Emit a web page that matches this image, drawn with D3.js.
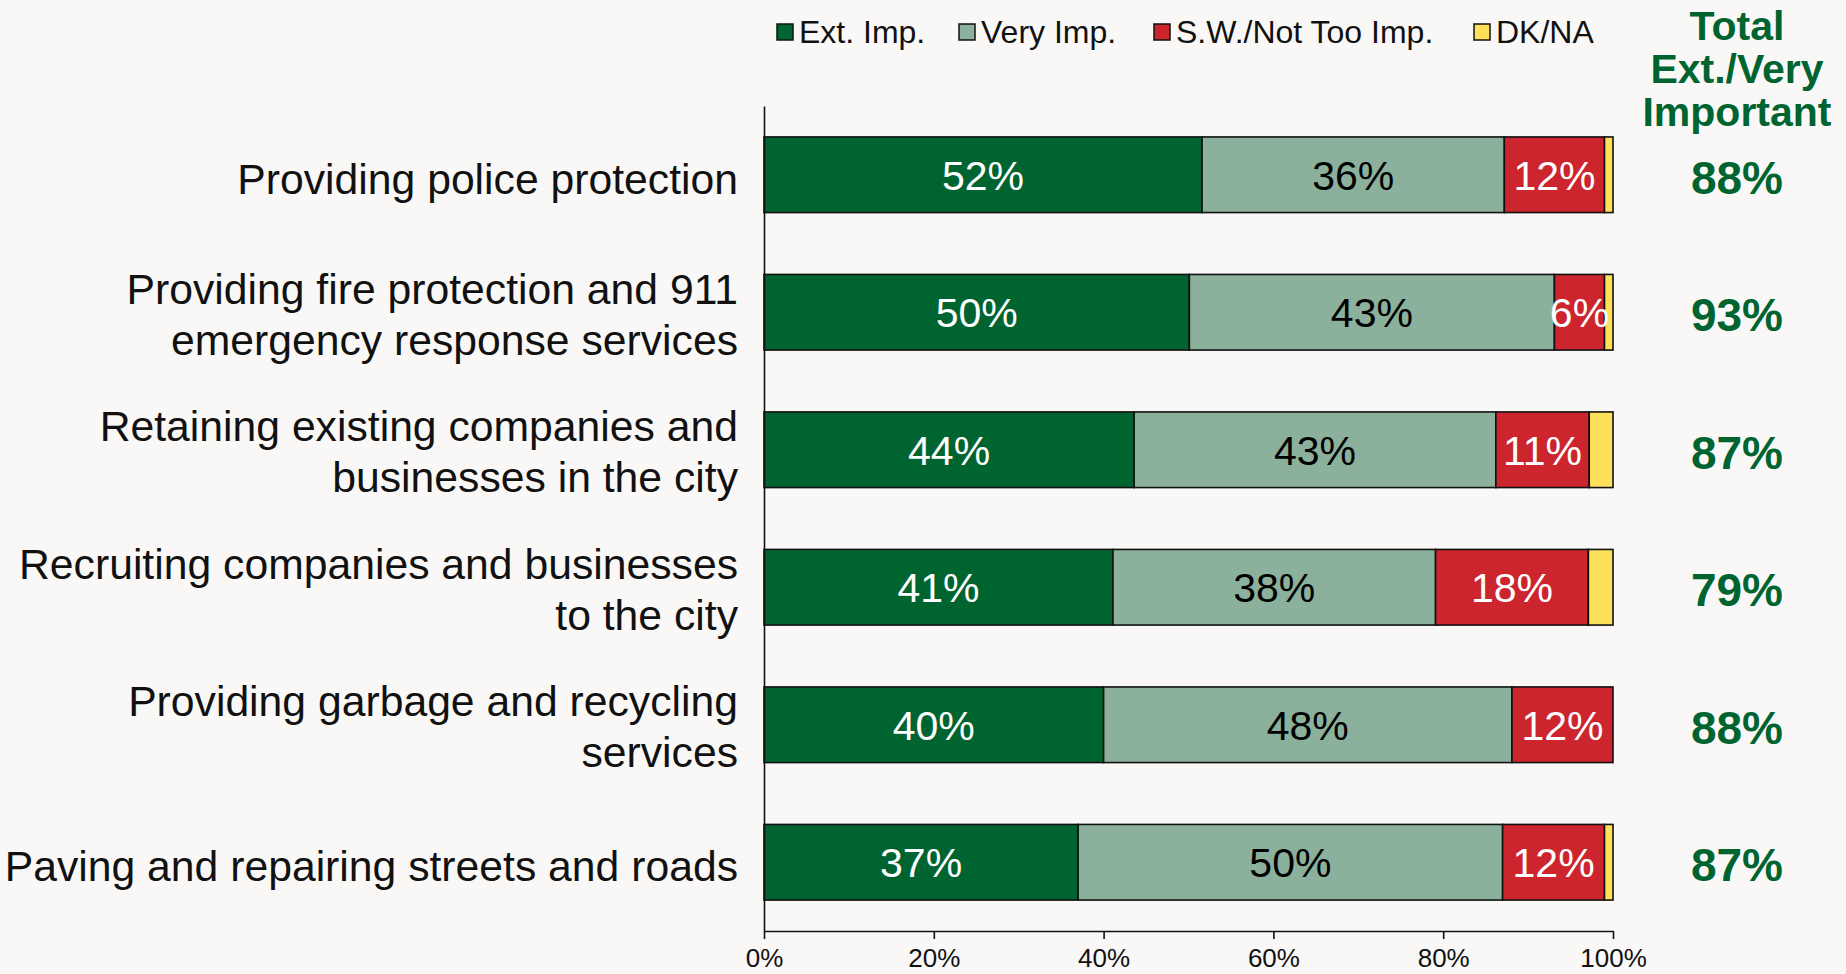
<!DOCTYPE html>
<html>
<head>
<meta charset="utf-8">
<script src="https://cdn.jsdelivr.net/npm/d3@7"></script>
<style>
  html, body { margin: 0; padding: 0; background: #F9F8F6; }
  svg { display: block; font-family: "Liberation Sans", Arial, sans-serif; }
</style>
</head>
<body>
<svg id="chart" width="1846" height="974"></svg>
<script>
// ---- data ----
const categories = [
  ["Providing police protection"],
  ["Providing fire protection and 911", "emergency response services"],
  ["Retaining existing companies and", "businesses in the city"],
  ["Recruiting companies and businesses", "to the city"],
  ["Providing garbage and recycling", "services"],
  ["Paving and repairing streets and roads"]
];
const seriesNames = ["Ext. Imp.", "Very Imp.", "S.W./Not Too Imp.", "DK/NA"];
const extImp   = [51.6, 50.1, 43.6, 41.1, 40.0, 37.0];
const veryImp  = [35.6, 43.0, 42.6, 38.0, 48.1, 50.0];
const swNotToo = [11.8,  5.9, 11.0, 18.0, 11.9, 12.0];
const dkNa     = [ 1.0,  1.0,  2.8,  2.9,  0.0,  1.0];
const totals   = ["88%", "93%", "87%", "79%", "88%", "87%"];
const tickValues = [0, 20, 40, 60, 80, 100];
const totalHeader = ["Total", "Ext./Very", "Important"];

const colors = ["#006431", "#8BB09C", "#CC252E", "#FEE05A"];
const labelColors = ["#ffffff", "#000000", "#ffffff", "#000000"];

// ---- layout ----
const svg = d3.select("#chart");
const x0 = 764, x1 = 1613, yTop = 106, yBot = 931;

const x = d3.scaleLinear().domain([0, 100]).range([x0, x1]);
const y = d3.scaleBand().domain(d3.range(categories.length)).range([yTop, yBot]).paddingInner(0.45).paddingOuter(0.225);

const seriesData = [extImp, veryImp, swNotToo, dkNa];
const segs = [];
categories.forEach((c, i) => {
  let acc = 0;
  seriesData.forEach((s, k) => {
    segs.push({ row: i, k, v: s[i], start: acc, end: acc + s[i] });
    acc += s[i];
  });
});

// bars
const g = svg.append("g");
g.selectAll("rect").data(segs.filter(d => d.v > 0)).join("rect")
  .attr("x", d => x(d.start))
  .attr("y", d => y(d.row))
  .attr("width", d => x(d.end) - x(d.start))
  .attr("height", y.bandwidth())
  .attr("fill", d => colors[d.k])
  .attr("stroke", "#111")
  .attr("stroke-width", 1.6);

g.selectAll("text").data(segs.filter(d => d.k < 3 && d.v >= 4)).join("text")
  .attr("x", d => (x(d.start) + x(d.end)) / 2)
  .attr("y", d => y(d.row) + y.bandwidth() / 2)
  .attr("dy", "0.36em")
  .attr("text-anchor", "middle")
  .attr("font-size", 41)
  .attr("fill", d => labelColors[d.k])
  .text(d => Math.round(d.v) + "%");

// x axis
const xAxis = d3.axisBottom(x).tickValues(tickValues).tickFormat(d => d + "%").tickSize(8).tickSizeOuter(0);
const ax = svg.append("g").attr("transform", `translate(0,${yBot})`).call(xAxis);
ax.select(".domain").attr("stroke", "#111").attr("stroke-width", 1.6);
ax.selectAll(".tick line").attr("stroke", "#111").attr("stroke-width", 1.6);
ax.selectAll(".tick text").attr("font-size", 26).attr("fill", "#111").attr("dy", "0.95em")
  .attr("font-family", "Liberation Sans, Arial, sans-serif");

// y axis line
const yAxis = d3.axisLeft(y).tickSize(0).tickFormat("");
const ay = svg.append("g").attr("transform", `translate(${x0},0)`).call(yAxis);
ay.select(".domain").attr("stroke", "#111").attr("stroke-width", 1.6);

// category labels
categories.forEach((lines, i) => {
  const cy = y(i) + y.bandwidth() / 2;
  const lh = 51;
  const t = svg.append("text")
    .attr("text-anchor", "end")
    .attr("font-size", 42.7)
    .attr("fill", "#111");
  lines.forEach((ln, j) => {
    t.append("tspan")
      .attr("x", 738)
      .attr("y", cy + (j - (lines.length - 1) / 2) * lh + (lines.length === 1 ? 19 : 17))
      .text(ln);
  });
});

// totals
totals.forEach((tv, i) => {
  svg.append("text")
    .attr("x", 1737)
    .attr("y", y(i) + y.bandwidth() / 2 + 19)
    .attr("text-anchor", "middle")
    .attr("font-size", 46)
    .attr("font-weight", "bold")
    .attr("fill", "#006431")
    .text(tv);
});

// header
totalHeader.forEach((t, j) => {
  svg.append("text")
    .attr("x", 1737)
    .attr("y", 40 + j * 43)
    .attr("text-anchor", "middle")
    .attr("font-size", 41)
    .attr("font-weight", "bold")
    .attr("fill", "#006431")
    .text(t);
});

// legend
const legendX = [777, 959, 1154, 1474];
seriesNames.forEach((n, k) => {
  svg.append("rect")
    .attr("x", legendX[k]).attr("y", 24)
    .attr("width", 16).attr("height", 16)
    .attr("fill", colors[k]).attr("stroke", "#111").attr("stroke-width", 1.5);
  svg.append("text")
    .attr("x", legendX[k] + 22).attr("y", 43)
    .attr("font-size", 32).attr("fill", "#111")
    .text(n);
});
</script>
</body>
</html>
